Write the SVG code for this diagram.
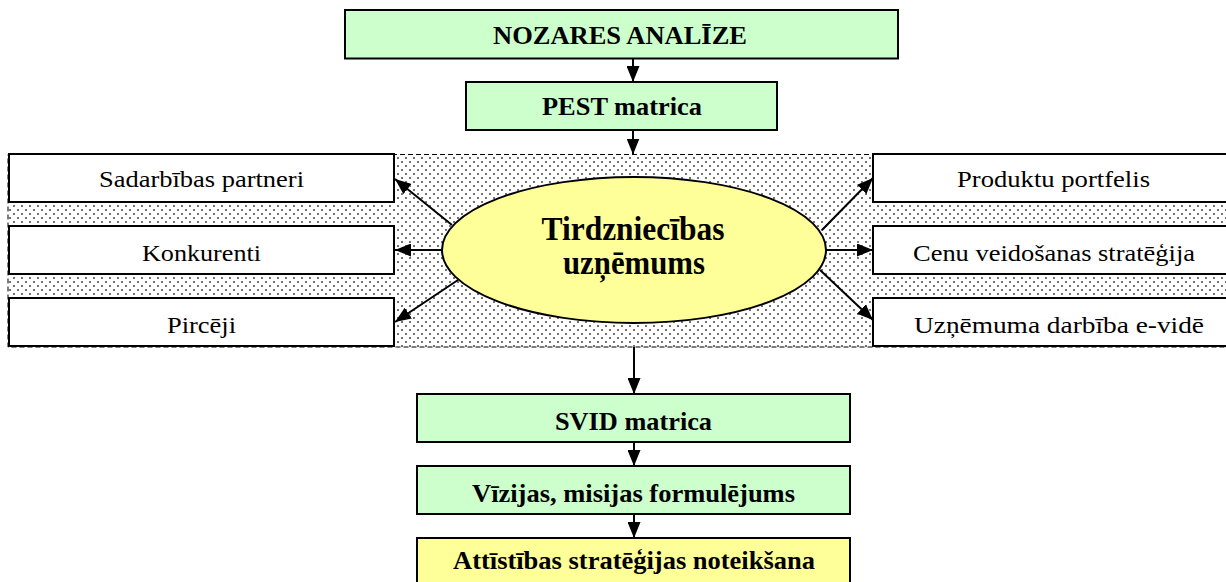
<svg xmlns="http://www.w3.org/2000/svg" width="1226" height="582" viewBox="0 0 1226 582">
<style>
.g{fill:#CCFFCC;stroke:#000;stroke-width:2}
.y{fill:#FFFF99;stroke:#000;stroke-width:2}
.w{fill:#fff;stroke:#000;stroke-width:2}
.b{font-family:"Liberation Serif","Times New Roman",serif;font-weight:bold;font-size:25px;text-anchor:middle;fill:#000}
.e{font-family:"Liberation Serif","Times New Roman",serif;font-weight:bold;font-size:34px;text-anchor:middle;fill:#000}
.r{font-family:"Liberation Serif","Times New Roman",serif;font-size:24px;text-anchor:middle;fill:#000}
.c{stroke:#000;stroke-width:2;fill:none;marker-end:url(#ah)}
</style>
<defs>
<pattern id="dots" width="8" height="8" patternUnits="userSpaceOnUse">
<rect width="8" height="8" fill="#fff"/>
<circle cx="2" cy="2" r="1" fill="#444"/>
<circle cx="6" cy="6" r="1" fill="#444"/>
</pattern>
<marker id="ah" markerWidth="16" markerHeight="13" refX="16" refY="6.5" orient="auto" markerUnits="userSpaceOnUse">
<path d="M0,0 L16,6.5 L0,13 z" fill="#000"/>
</marker>
</defs>
<rect id="region" x="8" y="154.5" width="1232" height="192.5" fill="url(#dots)" stroke="#000" stroke-width="1" stroke-dasharray="5,3"/>
<g id="nozares"><rect class="g" x="345" y="10" width="553" height="48.5"/><text class="b" x="620" y="44" textLength="254" lengthAdjust="spacingAndGlyphs">NOZARES ANALĪZE</text></g>
<g id="pest"><rect class="g" x="466" y="82" width="311" height="48"/><text class="b" x="622" y="115" textLength="160" lengthAdjust="spacingAndGlyphs">PEST matrica</text></g>
<g id="sadarbibas"><rect class="w" x="9" y="154" width="385" height="48"/><text class="r" x="201.5" y="187" textLength="205" lengthAdjust="spacingAndGlyphs">Sadarbības partneri</text></g>
<g id="konkurenti"><rect class="w" x="9" y="226" width="385" height="48"/><text class="r" x="201.5" y="261" textLength="119" lengthAdjust="spacingAndGlyphs">Konkurenti</text></g>
<g id="pirceji"><rect class="w" x="9" y="298" width="385" height="48"/><text class="r" x="201.5" y="333" textLength="69" lengthAdjust="spacingAndGlyphs">Pircēji</text></g>
<g id="produktu"><rect class="w" x="873" y="154" width="370" height="48"/><text class="r" x="1053.5" y="187" textLength="193" lengthAdjust="spacingAndGlyphs">Produktu portfelis</text></g>
<g id="cenu"><rect class="w" x="873" y="226" width="370" height="48"/><text class="r" x="1054" y="261" textLength="282" lengthAdjust="spacingAndGlyphs">Cenu veidošanas stratēģija</text></g>
<g id="e-vide"><rect class="w" x="873" y="298" width="370" height="48"/><text class="r" x="1059" y="333" textLength="290" lengthAdjust="spacingAndGlyphs">Uzņēmuma darbība e-vidē</text></g>
<g id="uznemums"><ellipse class="y" cx="634" cy="250" rx="192" ry="73"/><text class="e" x="633" y="240" textLength="183" lengthAdjust="spacingAndGlyphs">Tirdzniecības</text><text class="e" x="634" y="274" textLength="142" lengthAdjust="spacingAndGlyphs">uzņēmums</text></g>
<g id="svid"><rect class="g" x="417" y="394" width="433" height="48"/><text class="b" x="633.5" y="430" textLength="157" lengthAdjust="spacingAndGlyphs">SVID matrica</text></g>
<g id="vizija"><rect class="g" x="417" y="466" width="433" height="48"/><text class="b" x="633.5" y="502" textLength="323" lengthAdjust="spacingAndGlyphs">Vīzijas, misijas formulējums</text></g>
<g id="strategija"><rect class="y" x="417" y="538" width="433" height="60"/><text class="b" x="634" y="569" textLength="362" lengthAdjust="spacingAndGlyphs">Attīstības stratēģijas noteikšana</text></g>
<g id="connectors">
<line class="c" x1="633" y1="58.5" x2="633" y2="82"/>
<line class="c" x1="633" y1="130" x2="633" y2="154.5"/>
<line class="c" x1="452" y1="225" x2="395" y2="179"/>
<line class="c" x1="442" y1="250" x2="395" y2="250"/>
<line class="c" x1="458" y1="280" x2="395" y2="322"/>
<line class="c" x1="822" y1="230" x2="873" y2="178"/>
<line class="c" x1="826" y1="250" x2="873" y2="250"/>
<line class="c" x1="820" y1="270" x2="873" y2="320"/>
<line class="c" x1="634" y1="347" x2="634" y2="394"/>
<line class="c" x1="634" y1="442" x2="634" y2="466"/>
<line class="c" x1="634" y1="514" x2="634" y2="538"/>
</g>
</svg>
